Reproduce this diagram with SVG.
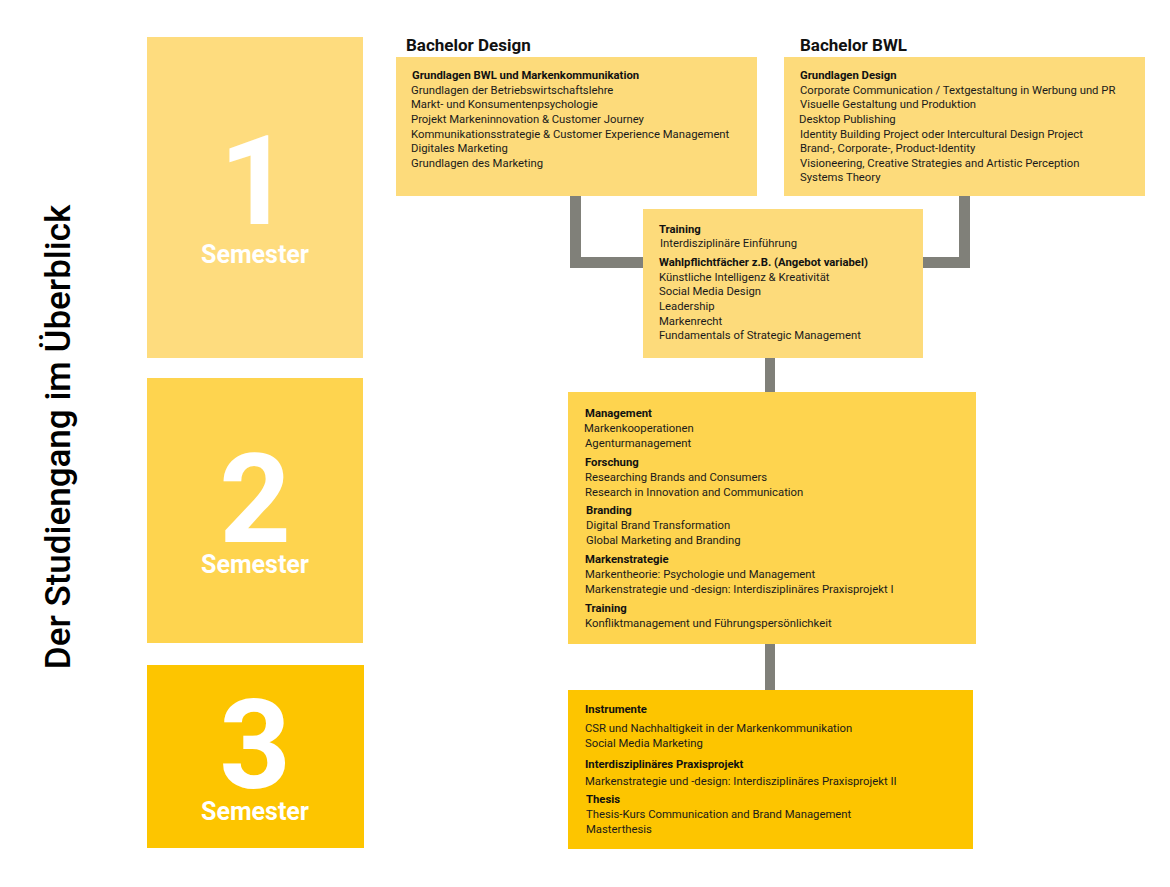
<svg xmlns="http://www.w3.org/2000/svg" width="1170" height="887" viewBox="0 0 1170 887">
<style>
.bg{fill:#ffffff}
.s1{fill:#FEDC7E}
.s2{fill:#FED44F}
.s3{fill:#FDC500}
.lt{fill:#FDDB7B}
.num{font-family:Roboto,"Liberation Sans",sans-serif;font-weight:bold;font-size:125px;fill:#ffffff;text-anchor:middle}
.sem{font-family:Roboto,"Liberation Sans",sans-serif;font-weight:bold;font-size:25px;fill:#ffffff;text-anchor:middle}
.title{font-family:Roboto,"Liberation Sans",sans-serif;font-weight:500;font-size:35px;fill:#000000;text-anchor:middle}
.h{font-family:Roboto,"Liberation Sans",sans-serif;font-weight:bold;font-size:17px;fill:#111111}
.t{font-family:Roboto,"Liberation Sans",sans-serif;font-size:11.3px;fill:#1a1a1a}
.b{font-family:Roboto,"Liberation Sans",sans-serif;font-size:11.3px;font-weight:bold;fill:#111111}
.con{fill:none;stroke:#808079;stroke-linejoin:miter;stroke-linecap:butt}
</style>
<rect class="bg" x="0" y="0" width="1170" height="887"/>
<text class="title" transform="translate(70,437) rotate(-90)">Der Studiengang im Überblick</text>

<g id="semester1">
<rect class="s1" x="147" y="37" width="216" height="321"/>
<text class="num" x="255" y="224">1</text>
<text class="sem" x="255" y="263">Semester</text>
</g>
<g id="semester2">
<rect class="s2" x="147" y="378" width="216" height="265"/>
<text class="num" x="255" y="542">2</text>
<text class="sem" x="255" y="573">Semester</text>
</g>
<g id="semester3">
<rect class="s3" x="147" y="665" width="217" height="183"/>
<text class="num" x="255" y="788">3</text>
<text class="sem" x="255" y="820">Semester</text>
</g>

<g id="connectors">
<path class="con" stroke-width="11" d="M575.5,196 V262.5 H645"/>
<path class="con" stroke-width="11" d="M964.5,196 V262.5 H920"/>
<path class="con" stroke-width="10" d="M770,356 V394"/>
<path class="con" stroke-width="10" d="M770,642 V692"/>
</g>

<g id="bachelor-design">
<text class="h" x="406" y="51">Bachelor Design</text>
<rect class="lt" x="396" y="57" width="361" height="139"/>
<text class="b" x="412" y="79">Grundlagen BWL und Markenkommunikation</text>
<text class="t" x="411" y="94">Grundlagen der Betriebswirtschaftslehre</text>
<text class="t" x="411" y="108">Markt- und Konsumentenpsychologie</text>
<text class="t" x="411" y="123">Projekt Markeninnovation &amp; Customer Journey</text>
<text class="t" x="411" y="138">Kommunikationsstrategie &amp; Customer Experience Management</text>
<text class="t" x="411" y="152">Digitales Marketing</text>
<text class="t" x="411" y="167">Grundlagen des Marketing</text>
</g>

<g id="bachelor-bwl">
<text class="h" x="800" y="51">Bachelor BWL</text>
<rect class="lt" x="784" y="57" width="361" height="139"/>
<text class="b" x="800" y="79">Grundlagen Design</text>
<text class="t" x="800" y="94">Corporate Communication / Textgestaltung in Werbung und PR</text>
<text class="t" x="800" y="108">Visuelle Gestaltung und Produktion</text>
<text class="t" x="799" y="123">Desktop Publishing</text>
<text class="t" x="800" y="138">Identity Building Project oder Intercultural Design Project</text>
<text class="t" x="800" y="152">Brand-, Corporate-, Product-Identity</text>
<text class="t" x="800" y="167">Visioneering, Creative Strategies and Artistic Perception</text>
<text class="t" x="800" y="181">Systems Theory</text>
</g>

<g id="training-wahlpflicht">
<rect class="lt" x="643" y="209" width="280" height="149"/>
<text class="b" x="659" y="233">Training</text>
<text class="t" x="660" y="247">Interdisziplinäre Einführung</text>
<text class="b" x="659" y="266">Wahlpflichtfächer z.B. (Angebot variabel)</text>
<text class="t" x="659" y="281">Künstliche Intelligenz &amp; Kreativität</text>
<text class="t" x="659" y="295">Social Media Design</text>
<text class="t" x="659" y="310">Leadership</text>
<text class="t" x="659" y="325">Markenrecht</text>
<text class="t" x="659" y="339">Fundamentals of Strategic Management</text>
</g>

<g id="semester2-modules">
<rect class="s2" x="568" y="392" width="408" height="252"/>
<text class="b" x="585" y="417">Management</text>
<text class="t" x="584" y="432">Markenkooperationen</text>
<text class="t" x="585" y="447">Agenturmanagement</text>
<text class="b" x="585" y="466">Forschung</text>
<text class="t" x="585" y="481">Researching Brands and Consumers</text>
<text class="t" x="585" y="496">Research in Innovation and Communication</text>
<text class="b" x="586" y="514">Branding</text>
<text class="t" x="586" y="529">Digital Brand Transformation</text>
<text class="t" x="586" y="544">Global Marketing and Branding</text>
<text class="b" x="585" y="563">Markenstrategie</text>
<text class="t" x="585" y="578">Markentheorie: Psychologie und Management</text>
<text class="t" x="585" y="593">Markenstrategie und -design: Interdisziplinäres Praxisprojekt I</text>
<text class="b" x="585" y="612">Training</text>
<text class="t" x="585" y="627">Konfliktmanagement und Führungspersönlichkeit</text>
</g>

<g id="semester3-modules">
<rect class="s3" x="568" y="690" width="405" height="159"/>
<text class="b" x="585" y="713">Instrumente</text>
<text class="t" x="585" y="732">CSR und Nachhaltigkeit in der Markenkommunikation</text>
<text class="t" x="585" y="747">Social Media Marketing</text>
<text class="b" x="585" y="768">Interdisziplinäres Praxisprojekt</text>
<text class="t" x="585" y="785">Markenstrategie und -design: Interdisziplinäres Praxisprojekt II</text>
<text class="b" x="586" y="803">Thesis</text>
<text class="t" x="586" y="818">Thesis-Kurs Communication and Brand Management</text>
<text class="t" x="586" y="833">Masterthesis</text>
</g>
</svg>
